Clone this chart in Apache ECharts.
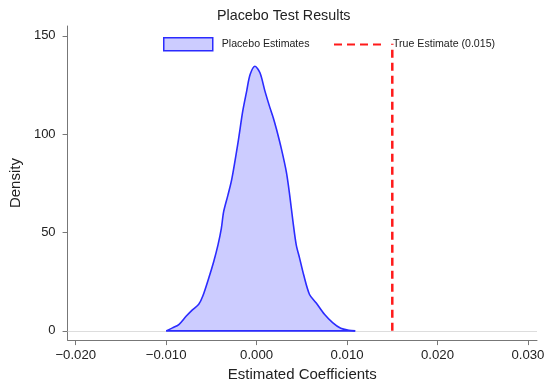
<!DOCTYPE html>
<html>
<head>
<meta charset="utf-8">
<script src="https://cdn.jsdelivr.net/npm/echarts@6/dist/echarts.min.js"></script>
<style>
html,body{margin:0;padding:0;background:#fff;}
#chart{width:550px;height:387px;}
</style>
</head>
<body>
<div id="chart"></div>
<script>
// ---- data ----
const coefX = [-0.0100, -0.0093, -0.0086, -0.0078, -0.0071, -0.0064, -0.00595, -0.00529, -0.00474, -0.00427,
  -0.00390, -0.00365, -0.00318, -0.00274, -0.00205, -0.00153, -0.0011, -0.00072, -0.00018, 0.00037,
  0.00092, 0.00147, 0.00183, 0.00219, 0.00274, 0.00329, 0.00366, 0.00402, 0.00438, 0.00475,
  0.0052, 0.00585, 0.00657, 0.0075, 0.0084, 0.0093, 0.0102, 0.0109];
const densityY = [0, 1.5, 3.2, 7.4, 10.7, 13.5, 17.7, 26.9, 35.3, 43.7,
  52.1, 60.5, 68.9, 77.3, 96.0, 111.8, 121.9, 130.3, 134.5, 131.2,
  121.9, 113.5, 108.5, 102.6, 92.5, 80.7, 68.9, 55.5, 43.7, 37.0,
  28.5, 18.5, 14.3, 8.4, 4.2, 1.3, 0.3, 0];
const trueEstimate = 0.015;
const trueLineY = [0, 146];
const xTicks = [-0.02, -0.01, 0, 0.01, 0.02, 0.03];
const yTicks = [0, 50, 100, 150];
const titleText = 'Placebo Test Results';
const seriesNames = ['Placebo Estimates', 'True Estimate (0.015)'];

// ---- chart ----
const font = 'Liberation Sans, Arial, sans-serif';
const blue = '#2b2bff';
const fill = '#ccccff';
const red = '#ff1a1a';

const curve = coefX.map((x, i) => [x, densityY[i]]);
const baseLine = [[coefX[0], 0], [coefX[coefX.length - 1], 0]];
const trueLine = trueLineY.map(y => [trueEstimate, y]);

const chart = echarts.init(document.getElementById('chart'), null, {renderer: 'canvas'});
chart.setOption({
  animation: false,
  backgroundColor: '#fff',
  title: {
    text: titleText,
    left: 217, top: 9, padding: 0,
    textStyle: {fontFamily: font, fontSize: 14.3, fontWeight: 'normal', color: '#222'}
  },
  legend: [
    {
      left: 163, top: 37, padding: 0,
      itemWidth: 49, itemHeight: 13,
      data: [{name: seriesNames[0], icon: 'rect',
        itemStyle: {color: fill, borderColor: blue, borderWidth: 1.5}}],
      textStyle: {fontFamily: font, fontSize: 10.6, color: '#222', padding: [0, 0, 0, 4]}
    },
    {
      left: 333, top: 39, padding: 0,
      itemWidth: 50, itemHeight: 13,
      data: [{name: seriesNames[1], itemStyle: {opacity: 0}}],
      textStyle: {fontFamily: font, fontSize: 10.6, color: '#222', padding: [0, 0, 0, 4]}
    }
  ],
  grid: {left: 63, right: 13, top: 26, bottom: 44},
  xAxis: {
    type: 'value',
    min: -0.0209, max: 0.0310,
    name: 'Estimated Coefficients',
    nameLocation: 'middle', nameGap: 24,
    nameTextStyle: {fontFamily: font, fontSize: 15, color: '#222'},
    axisLine: {show: true, onZero: false, lineStyle: {color: '#777', width: 1}},
    axisTick: {show: true, customValues: xTicks, length: 5, lineStyle: {color: '#777'}},
    axisLabel: {customValues: xTicks, margin: 9, fontFamily: font, fontSize: 13.2, color: '#222',
      formatter: v => (v < 0 ? '\u2212' : '') + Math.abs(v).toFixed(3)},
    splitLine: {show: false}
  },
  yAxis: {
    type: 'value',
    min: -4.7, max: 155,
    name: 'Density',
    nameLocation: 'middle', nameGap: 39,
    nameTextStyle: {fontFamily: font, fontSize: 15, color: '#222'},
    axisLine: {show: true, onZero: false, lineStyle: {color: '#777', width: 1}},
    axisTick: {show: true, customValues: yTicks, length: 5, lineStyle: {color: '#777'}},
    axisLabel: {customValues: yTicks, margin: 12, fontFamily: font, fontSize: 13, color: '#222'},
    splitLine: {show: false}
  },
  series: [
    {
      name: seriesNames[0],
      type: 'line',
      data: curve,
      smooth: 0.3,
      symbol: 'none',
      lineStyle: {color: blue, width: 1.6},
      itemStyle: {color: blue},
      areaStyle: {color: fill, opacity: 1},
      z: 3,
      markLine: {
        silent: true, symbol: 'none', label: {show: false},
        lineStyle: {color: '#dddddd', width: 1, type: 'solid'},
        data: [{yAxis: 0}],
        z: 1
      }
    },
    {
      name: seriesNames[0] + ' base',
      type: 'line',
      data: baseLine,
      symbol: 'none',
      silent: true,
      lineStyle: {color: blue, width: 1.6},
      z: 4
    },
    {
      name: seriesNames[1],
      type: 'line',
      data: trueLine,
      symbol: 'none',
      lineStyle: {color: red, width: 2.5, type: [8, 5]},
      itemStyle: {color: red},
      z: 5
    }
  ]
});
</script>
</body>
</html>
